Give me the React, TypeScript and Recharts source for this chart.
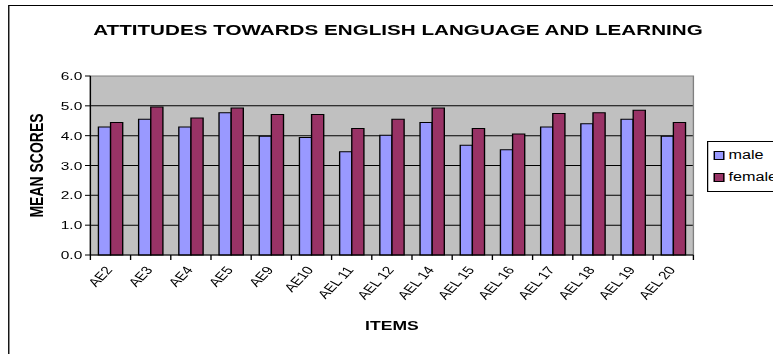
import React from "react";
import { BarChart, Bar, XAxis, YAxis, CartesianGrid, ReferenceArea, Label } from "recharts";

const items = ["AE2", "AE3", "AE4", "AE5", "AE9", "AE10", "AEL 11", "AEL 12", "AEL 14", "AEL 15", "AEL 16", "AEL 17", "AEL 18", "AEL 19", "AEL 20"];
const male = [4.29, 4.55, 4.29, 4.77, 3.98, 3.94, 3.46, 4.01, 4.44, 3.68, 3.53, 4.29, 4.4, 4.55, 3.98];
const female = [4.44, 4.96, 4.59, 4.93, 4.71, 4.71, 4.24, 4.55, 4.93, 4.24, 4.06, 4.74, 4.77, 4.85, 4.44];
const yTicks = [0, 1, 2, 3, 4, 5, 6];
const series = [
  { key: "male", color: "#9999FF" },
  { key: "female", color: "#993366" },
];

const data = items.map((item, i) => ({ item, male: male[i], female: female[i] }));

// the reference image is stretched sideways, so draw narrow and scale
const W = 573;
const H = 354;
const SCALE = 773 / W;
const M = { top: 76, right: 59, left: 6, bottom: 19 };
const Y_W = 61;
const BAND = (W - M.left - M.right - Y_W) / items.length;
const FONT = '"Liberation Sans", Arial, sans-serif';

function ItemTick(props: any) {
  const { x, y, payload, index } = props;
  const last = index === items.length - 1;
  const ax = x + 2;
  const ay = y + 7;
  return (
    <g>
      <line x1={x - BAND / 2} y1={y - 8} x2={x - BAND / 2} y2={y - 3} stroke="#000" />
      {last && <line x1={x + BAND / 2} y1={y - 8} x2={x + BAND / 2} y2={y - 3} stroke="#000" />}
      <text x={ax} y={ay} textAnchor="end" fontSize={11.5} fontFamily={FONT} fill="#000"
        transform={`rotate(-54, ${ax}, ${ay})`}>
        {payload.value}
      </text>
    </g>
  );
}

function LegendBox() {
  return (
    <div style={{ position: "absolute", left: 524, top: 141, width: 80, height: 45, border: "1px solid #000", background: "#fff", padding: "2px 4px", fontFamily: FONT, fontSize: 12, color: "#000" }}>
      {series.map((s) => (
        <div key={s.key} style={{ display: "flex", alignItems: "center", height: 22 }}>
          <span style={{ width: 6, height: 7, background: s.color, border: "1px solid #000", marginRight: 3 }} />
          <span>{s.key}</span>
        </div>
      ))}
    </div>
  );
}

export default function App() {
  return (
    <div style={{ position: "absolute", left: 0, top: 0, width: 773, height: H, overflow: "hidden", background: "#fff" }}>
      <div style={{ position: "absolute", left: 0, top: 0, width: W, height: H, transform: `scaleX(${SCALE})`, transformOrigin: "0 0" }}>
        <div style={{ position: "absolute", left: 6, top: 5, width: 700, height: 400, border: "1px solid #000" }} />
        <div style={{ position: "absolute", left: 0, top: 22, width: 590, textAlign: "center", fontFamily: FONT, fontWeight: "bold", fontSize: 15.3, lineHeight: 1 }}>
          ATTITUDES TOWARDS ENGLISH LANGUAGE AND LEARNING
        </div>
        <div style={{ position: "absolute", left: 0, top: 0 }}>
          <BarChart width={W} height={H} data={data} margin={M} barCategoryGap="20%" barGap={0}>
            <CartesianGrid vertical={false} horizontalValues={[1, 2, 3, 4, 5]} stroke="#000" fill="#C0C0C0" fillOpacity={1} />
            <ReferenceArea y1={0} y2={6} fill="none" stroke="#808080" ifOverflow="visible" />
            <XAxis dataKey="item" height={80} interval={0} tickLine={false} axisLine={{ stroke: "#000" }} tick={<ItemTick />}>
              <Label value="ITEMS" position="insideBottom" offset={5} style={{ fontFamily: FONT, fontWeight: "bold", fontSize: 13, fill: "#000" }} />
            </XAxis>
            <YAxis width={Y_W} domain={[0, 6]} ticks={yTicks} tickFormatter={(v: number) => v.toFixed(1)}
              axisLine={{ stroke: "#000" }} tickLine={{ stroke: "#000" }} tickSize={4}
              tick={{ fontSize: 11.5, fontFamily: FONT, fill: "#000" }}>
              <Label value="MEAN SCORES" angle={-90} position="insideLeft" offset={21}
                style={{ textAnchor: "middle", fontFamily: FONT, fontWeight: "bold", fontSize: 14, fill: "#000" }} />
            </YAxis>
            {series.map((s) => (
              <Bar key={s.key} dataKey={s.key} name={s.key} fill={s.color} stroke="#000" strokeWidth={1} isAnimationActive={false} />
            ))}
          </BarChart>
        </div>
        <LegendBox />
      </div>
    </div>
  );
}
